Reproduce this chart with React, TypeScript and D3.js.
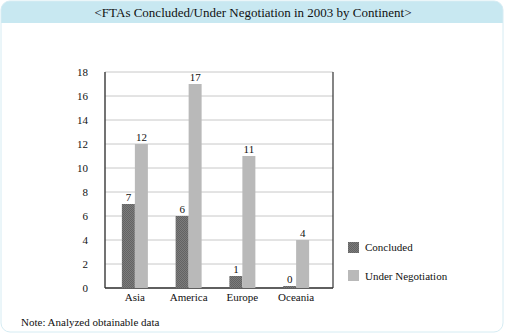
import React from "react";
import * as d3 from "d3";

const title = "<FTAs Concluded/Under Negotiation in 2003 by Continent>";
const categories = ["Asia", "America", "Europe", "Oceania"];
const concluded = [7, 6, 1, 0];
const underNegotiation = [12, 17, 11, 4];
const yTicks = [0, 2, 4, 6, 8, 10, 12, 14, 16, 18];
const seriesNames = ["Concluded", "Under Negotiation"];
const note = "Note: Analyzed obtainable data";

export default function App() {
  const W = 505, H = 334;
  const left = 105, right = 333, top = 72, bottom = 288;
  const y = d3.scaleLinear().domain([0, 18]).range([bottom, top]);
  const x0 = d3.scaleBand<string>().domain(categories).range([108, 323]);
  const bw = 13;
  const font = "'Liberation Serif', 'Times New Roman', serif";
  const minH = 2;

  return (
    <svg width={W} height={H} style={{ position: "absolute", left: 0, top: 0, display: "block" }} fontFamily={font}>
      <defs>
        <pattern id="hatch" width="2" height="2" patternUnits="userSpaceOnUse">
          <rect width="2" height="2" fill="#7c7c7c" />
          <rect width="1" height="1" fill="#636363" />
          <rect x="1" y="1" width="1" height="1" fill="#636363" />
        </pattern>
        <clipPath id="frameClip">
          <rect x={1} y={1} width={502} height={331} rx={9} />
        </clipPath>
      </defs>
      <rect x={0} y={0} width={W} height={H} fill="#ffffff" />
      <g clipPath="url(#frameClip)">
        <rect x={1} y={1} width={502} height={22} fill="#c8e8f1" />
      </g>
      <rect x={1} y={1} width={502} height={331} rx={9} fill="none" stroke="#d6ecf3" strokeWidth={1} />
      <text x={253} y={17} textAnchor="middle" fontSize={13} fill="#111">{title}</text>

      {yTicks.map((t) => (
        <line key={"g" + t} x1={left} x2={right} y1={y(t)} y2={y(t)} stroke="#c8c8c8" strokeWidth={1} />
      ))}
      <line x1={left} x2={left} y1={top} y2={bottom} stroke="#444" strokeWidth={1.5} />
      <line x1={right} x2={right} y1={top} y2={bottom} stroke="#333" strokeWidth={1.2} />
      <line x1={left} x2={right} y1={bottom} y2={bottom} stroke="#333" strokeWidth={1.5} />

      {yTicks.map((t) => (
        <text key={"t" + t} x={88} y={y(t) + 4} textAnchor="end" fontSize={11} fill="#111">{t}</text>
      ))}

      {categories.map((c, i) => {
        const cx = (x0(c) as number) + x0.bandwidth() / 2;
        const h1 = Math.max(bottom - y(concluded[i]), minH);
        const h2 = Math.max(bottom - y(underNegotiation[i]), minH);
        return (
          <g key={c}>
            <rect x={cx - bw} y={bottom - h1} width={bw} height={h1} fill="url(#hatch)" />
            <rect x={cx} y={bottom - h2} width={bw} height={h2} fill="#b9b9b9" />
            <text x={cx - bw / 2} y={bottom - h1 - 3} textAnchor="middle" fontSize={11} fill="#111">{concluded[i]}</text>
            <text x={cx + bw / 2} y={bottom - h2 - 3} textAnchor="middle" fontSize={11} fill="#111">{underNegotiation[i]}</text>
            <text x={cx} y={301} textAnchor="middle" fontSize={11} fill="#111">{c}</text>
          </g>
        );
      })}

      <rect x={348} y={242} width={11} height={11} fill="url(#hatch)" />
      <text x={365} y={251} fontSize={11} fill="#111">{seriesNames[0]}</text>
      <rect x={348} y={270} width={11} height={11} fill="#b9b9b9" />
      <text x={365} y={280} fontSize={11} fill="#111">{seriesNames[1]}</text>

      <text x={21} y={326} fontSize={11} fill="#111">{note}</text>
    </svg>
  );
}
